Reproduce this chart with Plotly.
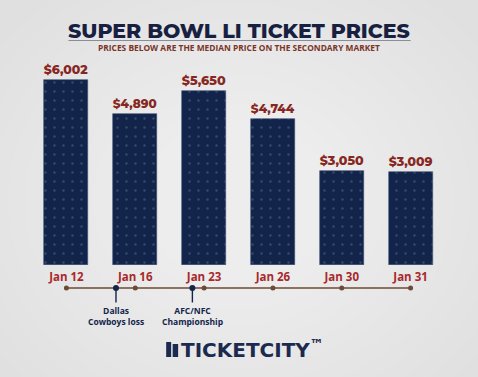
import plotly.graph_objects as go

dates = ["Jan 12", "Jan 16", "Jan 23", "Jan 26", "Jan 30", "Jan 31"]
prices = [6002, 4890, 5650, 4744, 3050, 3009]
price_labels = ["$6,002", "$4,890", "$5,650", "$4,744", "$3,050", "$3,009"]
event_pos = [0.72, 1.83]
event_labels = ["Dallas<br>Cowboys loss", "AFC/NFC<br>Championship"]

NAVY = "#12244a"
RED = "#872722"

W, H = 478, 377
mt, mb = 60, 60
ph = H - mt - mb
main_bottom = (H - mb - 265) / ph

fig = go.Figure()
xs = list(range(len(dates)))
fig.add_trace(go.Bar(
    x=xs, y=prices, width=0.64,
    marker=dict(color=NAVY, line=dict(color="#3a4d72", width=0.6),
                pattern=dict(shape=".", fgcolor="#9fb2d0", fgopacity=0.25, size=9, solidity=0.06, bgcolor=NAVY)),
    text=price_labels, textposition="outside", cliponaxis=False,
    textfont=dict(family="Montserrat, Open Sans, sans-serif", size=13.5, color=RED, weight=800),
    xaxis="x", yaxis="y", hoverinfo="skip",
))
# timeline
fig.add_trace(go.Scatter(
    x=[-0.03] + xs[:] + [5.0], y=[0] * (len(xs) + 2), mode="lines",
    line=dict(color="#6e4a36", width=1.6), xaxis="x", yaxis="y2", hoverinfo="skip",
))
fig.add_trace(go.Scatter(
    x=xs, y=[0] * len(xs), mode="markers",
    marker=dict(color="#6e4a36", size=5), xaxis="x", yaxis="y2", hoverinfo="skip",
))
for p, lab in zip(event_pos, event_labels):
    fig.add_trace(go.Scatter(
        x=[p, p], y=[0, -0.5], mode="lines", line=dict(color=NAVY, width=1.4),
        xaxis="x", yaxis="y2", hoverinfo="skip"))
    fig.add_annotation(x=p, y=-0.52, xref="x", yref="y2", text=lab, showarrow=False,
                       yanchor="top", font=dict(family="Open Sans, sans-serif", size=8.5, color=NAVY, weight=700),
                       align="center")
fig.add_trace(go.Scatter(
    x=event_pos, y=[0, 0], mode="markers", marker=dict(color=NAVY, size=6),
    xaxis="x", yaxis="y2", hoverinfo="skip"))

span = 0.2257
fig.update_layout(
    width=W, height=H,
    margin=dict(l=31.5, r=32.5, t=mt, b=mb),
    paper_bgcolor="#e0e0e0", plot_bgcolor="rgba(0,0,0,0)",
    showlegend=False, bargap=0,
    xaxis=dict(range=[-0.5, 5.5], tickvals=xs, ticktext=dates, showgrid=False, zeroline=False,
               showline=False, ticks="outside", ticklen=1, tickcolor="rgba(0,0,0,0)",
               tickfont=dict(family="Open Sans, sans-serif", size=11.5, color="#a8292b", weight=700),
               anchor="y", fixedrange=True),
    yaxis=dict(domain=[main_bottom, 1], range=[0, 205 / (185 / 6002)], visible=False, fixedrange=True),
    yaxis2=dict(domain=[0, span], range=[-1, 1], visible=False, fixedrange=True),
)

# soft radial glow in the background
pw = W - 31.5 - 32.5
cx, cy = (239 - 31.5) / pw, (H - mb - 200) / ph
for i in range(16):
    r = 300 - i * 17
    fig.add_shape(type="circle", xref="paper", yref="paper", layer="below",
                  x0=cx - r / pw, x1=cx + r / pw, y0=cy - r * 0.85 / ph, y1=cy + r * 0.85 / ph,
                  fillcolor="rgba(255,255,255,0.05)", line=dict(width=0))

def py(px):
    return (H - mb - px) / ph

def pxx(px):
    return (px - 31.5) / pw

fig.add_annotation(x=0.5, y=py(31), xref="paper", yref="paper", showarrow=False,
                   text="SUPER BOWL LI TICKET PRICES", yanchor="middle",
                   font=dict(family="Montserrat, Open Sans, sans-serif", size=20.5, color="#172040", weight=800))
fig.add_shape(type="line", xref="paper", yref="paper", x0=pxx(68), x1=pxx(411),
              y0=py(40.5), y1=py(40.5), line=dict(color="#8a8c9c", width=1))
fig.add_annotation(x=0.5, y=py(48), xref="paper", yref="paper", showarrow=False,
                   text="PRICES BELOW ARE THE MEDIAN PRICE ON THE SECONDARY MARKET", yanchor="middle",
                   font=dict(family="Open Sans, sans-serif", size=8.4, color="#7a3428", weight=700))
# logo
fig.add_annotation(x=pxx(253), y=py(349), xref="paper", yref="paper", showarrow=False,
                   text="TICKETCITY<sup>™</sup>", yanchor="middle",
                   font=dict(family="DejaVu Sans, sans-serif", size=20, color="#1b2a4e", weight=900))
fig.add_shape(type="rect", xref="paper", yref="paper", x0=pxx(166), x1=pxx(171),
              y0=py(357), y1=py(342), fillcolor="#1b2a4e", line=dict(width=0))
fig.add_shape(type="rect", xref="paper", yref="paper", x0=pxx(172.5), x1=pxx(178),
              y0=py(357), y1=py(344), fillcolor="#1b2a4e", line=dict(width=0))

fig.write_html("out.html", config={"displayModeBar": False},
               post_script="document.body.style.margin='0';document.body.style.overflow='hidden';")
